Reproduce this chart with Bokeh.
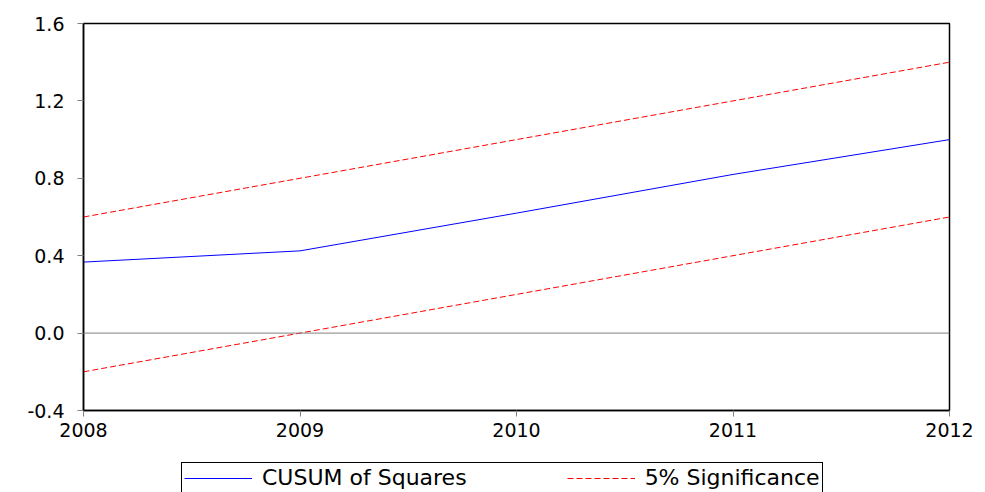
from bokeh.plotting import figure
from bokeh.layouts import column
from bokeh.models import Span, Legend, LegendItem, FixedTicker, CustomJSTickFormatter
from bokeh.embed import file_html
from bokeh.resources import INLINE

years = [2008, 2009, 2010, 2011, 2012]
cusum = [0.367, 0.425, 0.62, 0.82, 1.0]
upper = [0.6, 0.8, 1.0, 1.2, 1.4]
lower = [-0.2, 0.0, 0.2, 0.4, 0.6]
y_ticks = [-0.4, 0.0, 0.4, 0.8, 1.2, 1.6]
legend_labels = ["CUSUM of Squares", "5% Significance"]

FONT = "DejaVu Sans"
BLUE = "#0000ff"
RED = "#ff0000"

p = figure(frame_width=866, frame_height=387, output_backend="svg", toolbar_location=None,
           x_range=(2008, 2012), y_range=(-0.4, 1.6),
           min_border_left=83, min_border_top=23, min_border_right=36, min_border_bottom=40)
p.xgrid.visible = False
p.ygrid.visible = False
p.outline_line_color = "black"
p.outline_line_width = 1.5

p.line(years, cusum, line_color=BLUE, line_width=1)
p.line(years, upper, line_color=RED, line_width=1, line_dash="6 3")
p.line(years, lower, line_color=RED, line_width=1, line_dash="6 3")

p.add_layout(Span(location=0, dimension="width", line_color="#808080", line_width=1))

p.yaxis.ticker = FixedTicker(ticks=y_ticks)
p.yaxis.formatter = CustomJSTickFormatter(code="return tick.toFixed(1);")
p.xaxis.ticker = FixedTicker(ticks=years)
for ax in (p.xaxis, p.yaxis):
    ax.major_label_text_font = FONT
    ax.major_label_text_font_size = "19px"
    ax.major_label_text_color = "black"
    ax.axis_line_color = "black"
    ax.axis_line_width = 1.5
    ax.major_tick_line_color = "#808080"
    ax.major_tick_in = 0
    ax.major_tick_out = 6
    ax.minor_tick_line_color = None
p.xaxis.major_label_standoff = 6
p.yaxis.major_label_standoff = 13

# legend strip below the chart (its lines lie outside its own ranges, only the legend shows)
p2 = figure(width=985, height=42, output_backend="svg", toolbar_location=None,
            x_range=(0, 1), y_range=(0, 1),
            min_border_left=0, min_border_right=0, min_border_top=0, min_border_bottom=0)
p2.axis.visible = False
p2.xgrid.visible = False
p2.ygrid.visible = False
p2.outline_line_color = None
l1 = p2.line(years, cusum, line_color=BLUE, line_width=1)
l2 = p2.line(years, upper, line_color=RED, line_width=1, line_dash="6 3")

legend = Legend(items=[LegendItem(label=legend_labels[0], renderers=[l1]),
                       LegendItem(label=legend_labels[1], renderers=[l2])],
                orientation="horizontal", location=(98, -1),
                label_text_font=FONT, label_text_font_size="22px",
                label_text_color="black",
                border_line_color="black", border_line_width=1, border_line_alpha=1,
                glyph_width=68, spacing=100, padding=2, margin=0,
                label_standoff=10)
p2.add_layout(legend, "center")

layout = column(p, p2, spacing=0)
open("out.html", "w").write(file_html(layout, INLINE))
